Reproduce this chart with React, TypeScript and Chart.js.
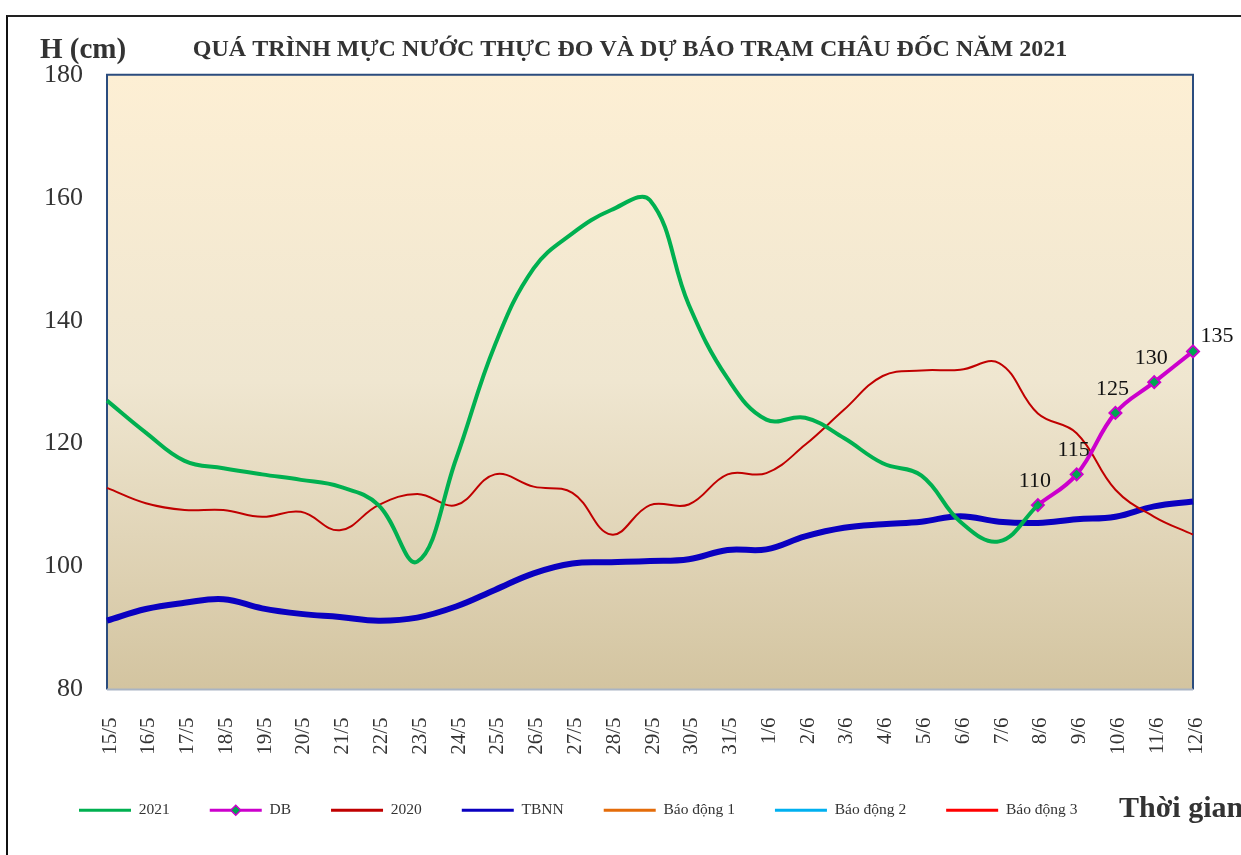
import React, { useEffect, useRef } from "react";
import { Chart, registerables } from "chart.js";

Chart.register(...registerables);

const FONT = "'Liberation Serif', 'Times New Roman', serif";

const TITLE = "QUÁ TRÌNH MỰC NƯỚC THỰC ĐO VÀ DỰ BÁO TRẠM CHÂU ĐỐC NĂM 2021";

const categories = [
  "15/5", "16/5", "17/5", "18/5", "19/5", "20/5", "21/5", "22/5", "23/5", "24/5",
  "25/5", "26/5", "27/5", "28/5", "29/5", "30/5", "31/5", "1/6", "2/6", "3/6",
  "4/6", "5/6", "6/6", "7/6", "8/6", "9/6", "10/6", "11/6", "12/6",
];

const series2021 = [
  127, 121.8, 117.2, 116, 115, 114.1, 113, 110, 100.8, 117.5,
  136, 148.5, 154.2, 158, 159.6, 142.6, 130.6, 123.9, 124.2, 120.9,
  116.8, 114.8, 107.3, 104.1, 110, null, null, null, null,
];

const seriesDB = [
  null, null, null, null, null, null, null, null, null, null,
  null, null, null, null, null, null, null, null, null, null,
  null, null, null, null, 110, 115, 125, 130, 135,
];

const series2020 = [
  112.8, 110.3, 109.2, 109.2, 108.1, 108.9, 105.9, 110, 111.8, 110,
  115, 113, 112, 105.2, 110, 110.1, 115, 115.2, 119.8, 125.5,
  131, 131.9, 132, 133.1, 124.9, 121.7, 112.5, 108.1, 105.2,
];

const seriesTBNN = [
  91.2, 93.1, 94.1, 94.7, 93.2, 92.3, 91.8, 91.2, 91.7, 93.5,
  96.2, 98.9, 100.5, 100.7, 100.9, 101.2, 102.7, 102.8, 104.9, 106.3,
  106.9, 107.3, 108.2, 107.3, 107.1, 107.7, 108.1, 109.8, 110.6,
];

// Alarm levels lie above the displayed range, so nothing is plotted for them.
const alarm1: (number | null)[] = [];
const alarm2: (number | null)[] = [];
const alarm3: (number | null)[] = [];

const yMin = 80;
const yMax = 180;
const yStep = 20;

const plotBackground = {
  id: "plotBackground",
  beforeDatasetsDraw(chart: any) {
    const { ctx, chartArea: a } = chart;
    ctx.save();
    const g = ctx.createLinearGradient(0, a.top, 0, a.bottom);
    g.addColorStop(0, "#FDEFD4");
    g.addColorStop(0.5, "#EFE6D0");
    g.addColorStop(1, "#D3C4A0");
    ctx.fillStyle = g;
    ctx.fillRect(a.left, a.top, a.right - a.left, a.bottom - a.top);
    ctx.lineWidth = 2;
    ctx.strokeStyle = "#2B4C7E";
    ctx.beginPath();
    ctx.moveTo(a.left, a.bottom);
    ctx.lineTo(a.left, a.top);
    ctx.lineTo(a.right, a.top);
    ctx.lineTo(a.right, a.bottom);
    ctx.stroke();
    ctx.strokeStyle = "#A9B4C4";
    ctx.beginPath();
    ctx.moveTo(a.left, a.bottom);
    ctx.lineTo(a.right, a.bottom);
    ctx.stroke();
    ctx.restore();
  },
};

const dbLabels = {
  id: "dbLabels",
  afterDatasetsDraw(chart: any) {
    const { ctx } = chart;
    const meta = chart.getDatasetMeta(1);
    const data = chart.data.datasets[1].data as (number | null)[];
    ctx.save();
    ctx.font = `22px ${FONT}`;
    ctx.fillStyle = "#111";
    ctx.textAlign = "center";
    ctx.textBaseline = "middle";
    meta.data.forEach((pt: any, i: number) => {
      const v = data[i];
      if (v == null) return;
      const last = i === data.length - 1;
      ctx.fillText(String(v), pt.x + (last ? 24 : -3), pt.y + (last ? -15 : -24));
    });
    ctx.restore();
  },
};

const legendMarker = {
  id: "legendMarker",
  afterDraw(chart: any) {
    const lg = chart.legend;
    if (!lg || !lg.legendHitBoxes || !lg.legendHitBoxes[1]) return;
    const hb = lg.legendHitBoxes[1];
    const cx = hb.left + 26;
    const cy = hb.top + 15.5 / 2;
    const { ctx } = chart;
    ctx.save();
    ctx.beginPath();
    ctx.moveTo(cx, cy - 5);
    ctx.lineTo(cx + 5, cy);
    ctx.lineTo(cx, cy + 5);
    ctx.lineTo(cx - 5, cy);
    ctx.closePath();
    ctx.fillStyle = "#00A651";
    ctx.fill();
    ctx.lineWidth = 1.5;
    ctx.strokeStyle = "#CC00CC";
    ctx.stroke();
    ctx.restore();
  },
};

export default function App() {
  const ref = useRef<HTMLCanvasElement | null>(null);

  useEffect(() => {
    if (!ref.current) return;
    const chart = new Chart(ref.current, {
      type: "line",
      data: {
        labels: categories,
        datasets: [
          {
            label: "2021",
            data: series2021,
            borderColor: "#00B050",
            backgroundColor: "#00B050",
            borderWidth: 4,
            pointRadius: 0,
            tension: 0.4,
          },
          {
            label: "DB",
            data: seriesDB,
            borderColor: "#CC00CC",
            backgroundColor: "#00A651",
            borderWidth: 4,
            pointStyle: "rectRot",
            pointRadius: 6,
            pointBorderColor: "#CC00CC",
            pointBackgroundColor: "#00A651",
            pointBorderWidth: 2,
            tension: 0.4,
          },
          {
            label: "2020",
            data: series2020,
            borderColor: "#C00000",
            backgroundColor: "#C00000",
            borderWidth: 2,
            pointRadius: 0,
            tension: 0.4,
          },
          {
            label: "TBNN",
            data: seriesTBNN,
            borderColor: "#0A00C0",
            backgroundColor: "#0A00C0",
            borderWidth: 6,
            pointRadius: 0,
            tension: 0.4,
          },
          {
            label: "Báo động 1",
            data: alarm1,
            borderColor: "#E46C0A",
            backgroundColor: "#E46C0A",
            borderWidth: 2,
            pointRadius: 0,
          },
          {
            label: "Báo động 2",
            data: alarm2,
            borderColor: "#00B0F0",
            backgroundColor: "#00B0F0",
            borderWidth: 2,
            pointRadius: 0,
          },
          {
            label: "Báo động 3",
            data: alarm3,
            borderColor: "#FF0000",
            backgroundColor: "#FF0000",
            borderWidth: 2,
            pointRadius: 0,
          },
        ],
      },
      options: {
        responsive: false,
        animation: false,
        layout: { padding: { left: 39, right: 20, top: 0, bottom: 27 } },
        plugins: {
          title: {
            display: true,
            text: TITLE,
            color: "#333",
            font: { family: FONT, size: 24, weight: "bold" },
            padding: { top: 35, bottom: 11 },
          },
          legend: {
            display: true,
            position: "bottom",
            align: "start",
            labels: {
              boxWidth: 52,
              boxHeight: 3,
              padding: 40,
              color: "#333",
              font: { family: FONT, size: 15.5 },
              generateLabels: (c: any) =>
                c.data.datasets.map((d: any, i: number) => ({
                  text: d.label,
                  fillStyle: d.borderColor,
                  strokeStyle: d.borderColor,
                  lineWidth: 0,
                  hidden: false,
                  datasetIndex: i,
                  fontColor: "#333",
                })),
            },
          },
          tooltip: { enabled: false },
        },
        scales: {
          x: {
            type: "category",
            offset: false,
            grid: { display: false, drawTicks: false },
            border: { display: false },
            ticks: {
              autoSkip: false,
              minRotation: 90,
              maxRotation: 90,
              padding: 28,
              labelOffset: 3,
              color: "#333",
              font: { family: FONT, size: 21 },
            },
            afterFit: (s: any) => {
              s.height = 73;
              s.paddingLeft = 0;
              s.paddingRight = 0;
            },
          },
          y: {
            min: yMin,
            max: yMax,
            grid: { display: false, drawTicks: false },
            border: { display: false },
            ticks: {
              stepSize: yStep,
              padding: 24,
              color: "#333",
              font: { family: FONT, size: 26 },
            },
            afterFit: (s: any) => {
              s.width = 68;
            },
          },
          yRight: {
            type: "linear",
            position: "right",
            display: true,
            grid: { display: false, drawTicks: false },
            border: { display: false },
            ticks: { display: false },
            afterFit: (s: any) => {
              s.width = 28;
            },
          },
        },
      } as any,
      plugins: [plotBackground, dbLabels, legendMarker],
    });
    return () => chart.destroy();
  }, []);

  return (
    <div style={{ position: "absolute", left: 0, top: 0, width: 1241, height: 855, overflow: "hidden", background: "#fff" }}>
      <div
        style={{
          position: "absolute",
          left: 6,
          top: 15,
          width: 1400,
          height: 1000,
          borderLeft: "2.5px solid #111",
          borderTop: "2.5px solid #222",
        }}
      />
      <canvas ref={ref} width={1241} height={855} style={{ position: "absolute", left: 0, top: 0, display: "block" }} />
      <div
        style={{
          position: "absolute",
          left: 40,
          top: 34,
          fontFamily: FONT,
          fontWeight: "bold",
          fontSize: 29,
          lineHeight: "29px",
          color: "#333",
          whiteSpace: "nowrap",
        }}
      >
        H (cm)
      </div>
      <div
        style={{
          position: "absolute",
          left: 1119,
          top: 792,
          fontFamily: FONT,
          fontWeight: "bold",
          fontSize: 30,
          lineHeight: "30px",
          color: "#333",
          whiteSpace: "nowrap",
        }}
      >
        Thời gian
      </div>
    </div>
  );
}
